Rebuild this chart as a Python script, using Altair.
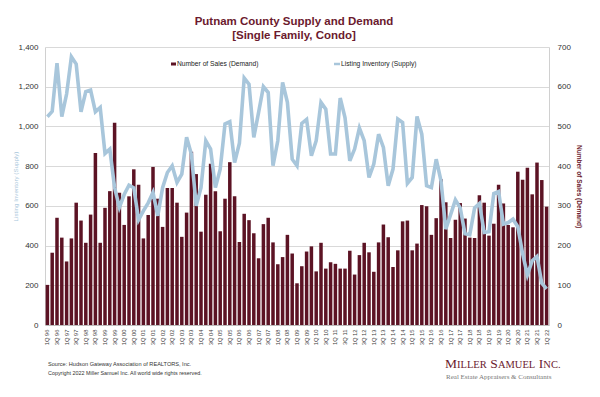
import altair as alt
import pandas as pd

# ---------------- data ----------------
quarters = []
for yy in list(range(96, 100)) + list(range(0, 23)):
    for q in range(1, 5):
        quarters.append(f"{q}Q {yy:02d}")
quarters = quarters[:105]  # 1Q 96 ... 1Q 22
tick_labels = [q for q in quarters if q.startswith("1Q") or q.startswith("3Q")]

sales = [101, 182, 270, 220, 160, 218, 308, 263, 207, 278,
         433, 207, 295, 337, 509, 333, 252, 324, 392, 353,
         218, 277, 398, 318, 247, 345, 345, 308, 222, 283,
         436, 380, 235, 328, 406, 337, 236, 318, 410, 324,
         209, 280, 264, 231, 168, 254, 270, 208, 153, 171,
         227, 180, 105, 148, 185, 198, 135, 207, 142, 158,
         154, 142, 142, 187, 127, 176, 207, 183, 134, 208,
         253, 221, 146, 188, 261, 263, 188, 205, 302, 299,
         227, 269, 367, 309, 219, 265, 307, 268, 220, 219,
         327, 308, 225, 255, 353, 306, 252, 246, 386, 366,
         396, 329, 409, 365, 298]

inventory = [1049, 1076, 1318, 1049, 1163, 1351, 1314, 1074, 1175, 1183,
             1074, 1096, 864, 886, 692, 592, 657, 704, 691, 530,
             575, 615, 667, 550, 692, 768, 802, 718, 760, 945,
             860, 600, 692, 928, 886, 692, 785, 1012, 1024, 818,
             915, 1244, 1213, 945, 1071, 1200, 1171, 802, 928, 1222,
             1121, 835, 802, 1015, 1035, 852, 928, 1121, 1087, 861,
             861, 1143, 1045, 827, 886, 992, 928, 743, 810, 961,
             894, 701, 785, 1037, 1020, 713, 743, 1050, 961, 701,
             692, 835, 726, 483, 555, 630, 590, 460, 455, 590,
             612, 466, 470, 662, 672, 508, 516, 533, 495, 360,
             252, 324, 345, 210, 182]

left_ticks = [0, 200, 400, 600, 800, 1000, 1200, 1400]
right_ticks = [0, 100, 200, 300, 400, 500, 600, 700]

title_lines = ["Putnam County Supply and Demand", "[Single Family, Condo]"]
sales_name = "Number of Sales (Demand)"
inv_name = "Listing Inventory (Supply)"
source_txt = "Source: Hudson Gateway Association of REALTORS, Inc."
copy_txt = "Copyright 2022 Miller Samuel Inc.  All world wide rights reserved."
logo_sub = "Real Estate Appraisers & Consultants"
# small-caps logo pieces: (text, is_capital)
logo_parts = [("M", True), ("ILLER", False), ("S", True), ("AMUEL", False),
              ("I", True), ("NC.", False)]

# ---------------- style ----------------
MAROON = "#5c1324"
TITLE_C = "#6b1a2e"
BLUE = "#a8c6db"
FONT = "Liberation Sans"
SERIF = "Liberation Serif"

df = pd.DataFrame({"quarter": quarters, "sales": sales, "inventory": inventory})

W, H = 504, 278

x_enc = alt.X(
    "quarter:N", sort=quarters,
    scale=alt.Scale(paddingInner=0.27, paddingOuter=0.135),
    axis=alt.Axis(values=tick_labels, labelAngle=270, labelFontSize=5.8,
                  labelColor="#404040", labelFont=FONT, ticks=False,
                  domainColor="#bdbdbd", labelPadding=4, title=None,
                  grid=False, labelOverlap=False),
)

bars = alt.Chart(df).mark_bar(color=MAROON).encode(
    x=x_enc,
    y=alt.Y("sales:Q", scale=alt.Scale(domain=[0, 700], nice=False),
            axis=alt.Axis(orient="right", values=right_ticks, grid=False,
                          ticks=False, domainColor="#d0d0d0", format="d",
                          labelFont=FONT, labelFontSize=8, labelColor="#333333",
                          labelPadding=8,
                          title=sales_name, titleAngle=90, titleFont=FONT,
                          titleFontSize=6.5, titleFontWeight="bold",
                          titleColor=TITLE_C, titleX=29, titleY=H / 2,
                          titleAlign="center", titleBaseline="middle")),
)

line = alt.Chart(df).mark_line(color=BLUE, strokeWidth=3.6).encode(
    x=x_enc,
    y=alt.Y("inventory:Q", scale=alt.Scale(domain=[0, 1400], nice=False),
            axis=alt.Axis(orient="left", values=left_ticks, format=",d",
                          grid=True, gridColor="#d9d9d9", ticks=False,
                          domainColor="#d0d0d0",
                          labelFont=FONT, labelFontSize=8, labelColor="#333333",
                          labelPadding=7,
                          title=inv_name, titleAngle=270, titleFont=FONT,
                          titleFontSize=6.2, titleFontWeight="normal",
                          titleColor=BLUE, titleX=-30, titleY=H / 2,
                          titleAlign="center", titleBaseline="middle")),
)

one = pd.DataFrame({"k": [0]})


def txt(s, x, y, size, color, font=FONT, weight="normal", align="left",
        baseline="middle"):
    return alt.Chart(one).mark_text(
        text=s, fontSize=size, color=color, font=font, fontWeight=weight,
        align=align, baseline=baseline,
    ).encode(x=alt.value(x), y=alt.value(y))


t1 = txt(title_lines[0], 249, -25, 11.5, TITLE_C, weight="bold", align="center")
t2 = txt(title_lines[1], 249, -11, 11.5, TITLE_C, weight="bold", align="center")

leg_rect = alt.Chart(one).mark_rect(color=MAROON).encode(
    x=alt.value(126), x2=alt.value(131), y=alt.value(15.5), y2=alt.value(18.5))
leg_t1 = txt(sales_name, 132, 17, 6.7, "#222222")
leg_rule = alt.Chart(one).mark_rule(color=BLUE, strokeWidth=2.5).encode(
    x=alt.value(289), x2=alt.value(295), y=alt.value(17))
leg_t2 = txt(inv_name, 296, 17, 6.7, "#222222")

src = txt(source_txt, 3, 317, 5.6, "#333333")
cpy = txt(copy_txt, 3, 326, 5.4, "#333333")

# small caps logo built from pieces
logo_layers = []
lx = 400.0
big, small = 13.5, 10.5
widths = {"M": 0.889, "S": 0.556, "I": 0.333, "L": 0.611, "E": 0.611, "R": 0.667,
          "A": 0.722, "U": 0.722, "N": 0.722, "C": 0.667, ".": 0.25}
for s, cap in logo_parts:
    size = big if cap else small
    logo_layers.append(txt(s, lx, 321, size, TITLE_C, font=SERIF,
                           baseline="alphabetic"))
    lx += sum(widths[c] for c in s) * size
    if s in ("ILLER", "AMUEL"):
        lx += 0.25 * small + 1
logo2 = txt(logo_sub, 401, 330, 7, "#777777", font=SERIF)

chart = alt.layer(
    bars, line, t1, t2, leg_rect, leg_t1, leg_rule, leg_t2, src, cpy,
    *logo_layers, logo2
).resolve_scale(y="independent").properties(
    width=W, height=H,
    autosize=alt.AutoSizeParams(type="none"),
    padding={"left": 37, "top": 39, "right": 41, "bottom": 60},
    background="white",
).configure_view(stroke=None)

chart.save("out.html", embed_options={"renderer": "svg", "actions": False})
